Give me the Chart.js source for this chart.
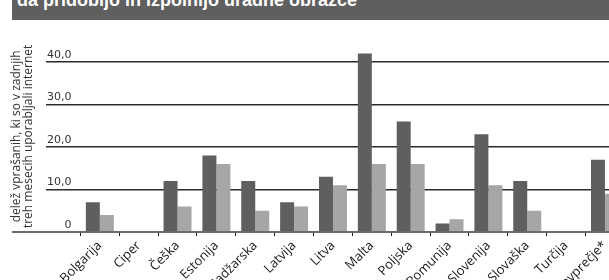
<!DOCTYPE html>
<html>
<head>
<meta charset="utf-8">
<script src="https://cdn.jsdelivr.net/npm/chart.js@4"></script>
<style>
  body { margin: 0; width: 609px; height: 280px; overflow: hidden; background: #fff; position: relative; }
  #wrap { position: absolute; left: 0; top: 0; width: 640px; height: 280px; }
  #title { position: absolute; left: 12px; top: 0; width: 597px; height: 20px; background: #5f5f5f; overflow: hidden; }
  #title span { position: absolute; left: 5px; top: -9px; color: #fff; font: bold 18px "Liberation Sans", Arial, sans-serif; line-height: 18px; white-space: nowrap; }
</style>
</head>
<body>
<div id="wrap"><canvas id="chart1" width="640" height="280"></canvas></div>
<div id="title"><span>da pridobijo in izpolnijo uradne obrazce</span></div>
<script>
// countries
var categories = [
    "Bolgarija",
    "Ciper",
    "Češka",
    "Estonija",
    "Madžarska",
    "Latvija",
    "Litva",
    "Malta",
    "Poljska",
    "Romunija",
    "Slovenija",
    "Slovaška",
    "Turčija",
    "Povprečje*"
];
// dark series
var darkValues = [7, null, 12, 18, 12, 7, 13, 42, 26, 2, 23, 12, null, 17];
// light series
var lightValues = [4, null, 6, 16, 5, 6, 11, 16, 16, 3, 11, 5, null, 9];
var yTicks = [0, 10, 20, 30, 40];
var yTitle = ["delež vprašanih, ki so v zadnjih", "treh mesecih uporabljali internet"];

var baseline = {
    id: "baseline",
    afterDatasetsDraw: function(chart) {
        var ctx = chart.ctx;
        var y = chart.scales.y.getPixelForValue(0);
        ctx.save();
        ctx.strokeStyle = "#6b6b6b";
        ctx.lineWidth = 2;
        ctx.beginPath();
        ctx.moveTo(12, y);
        ctx.lineTo(chart.chartArea.right, y);
        ctx.stroke();
        ctx.restore();
    }
};

new Chart("chart1", {
    type: "bar",
    data: {
        labels: categories,
        datasets: [
            {
                data: darkValues,
                backgroundColor: "#5f5f5f",
                categoryPercentage: 0.72,
                barPercentage: 1
            },
            {
                data: lightValues,
                backgroundColor: "#a6a6a6",
                categoryPercentage: 0.72,
                barPercentage: 1
            }
        ]
    },
    options: {
        responsive: false,
        animation: false,
        devicePixelRatio: 1,
        layout: {
            padding: { top: 40.75, right: 15.6, bottom: 0, left: 0 }
        },
        plugins: {
            legend: { display: false },
            tooltip: { enabled: false }
        },
        scales: {
            x: {
                border: { display: false },
                grid: {
                    offset: true,
                    drawOnChartArea: false,
                    drawTicks: true,
                    tickLength: 4,
                    color: "#111",
                    lineWidth: 1
                },
                ticks: {
                    autoSkip: false,
                    minRotation: 45,
                    maxRotation: 45,
                    padding: 2,
                    color: "#1a1a1a",
                    font: { family: "'Open Sans'", size: 13 }
                },
                afterFit: function(scale) {
                    scale.height = 48;
                }
            },
            y: {
                min: 0,
                max: 45,
                border: { display: false },
                afterBuildTicks: function(scale) {
                    scale.ticks = yTicks.map(function(v) { return { value: v }; });
                },
                grid: {
                    color: "#2a2a2a",
                    lineWidth: 1.5,
                    drawTicks: true,
                    tickLength: 34.4
                },
                ticks: {
                    padding: -25.4,
                    labelOffset: -7,
                    color: "#333",
                    font: { family: "'DejaVu Sans'", size: 11 },
                    callback: function(v) {
                        return v === 0 ? "0" : v.toFixed(1).replace(".", ",");
                    }
                },
                title: {
                    display: true,
                    text: yTitle,
                    color: "#333",
                    padding: { top: 11, bottom: 0 },
                    font: { family: "'Open Sans'", size: 12, lineHeight: 1.0 }
                },
                afterFit: function(scale) {
                    scale.width = 80.4;
                }
            }
        }
    },
    plugins: [baseline]
});
</script>
</body>
</html>
